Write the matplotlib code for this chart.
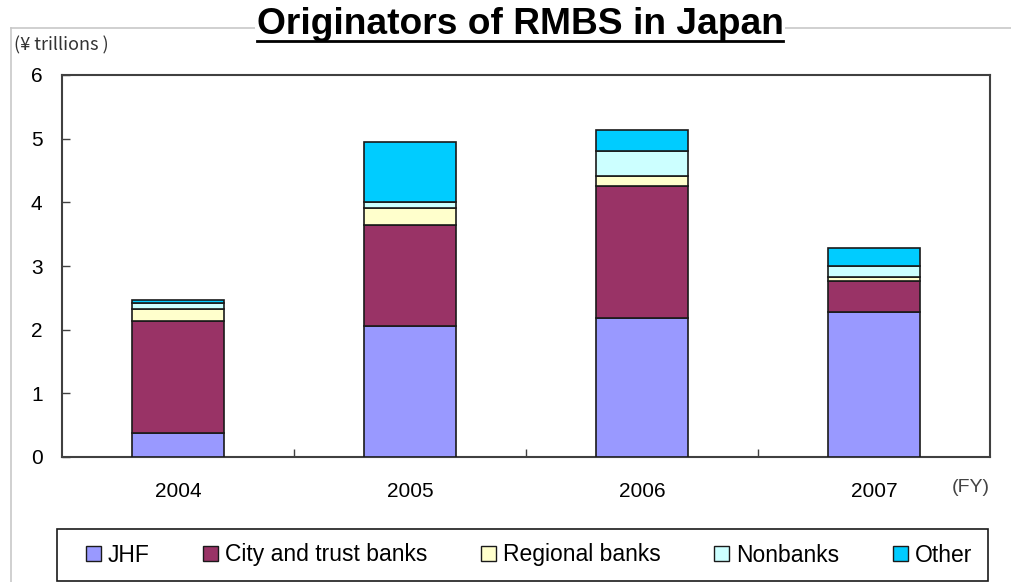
import matplotlib
matplotlib.use("Agg")
import matplotlib.pyplot as plt
from matplotlib.lines import Line2D
from matplotlib.patches import Patch, Rectangle
import numpy as np

plt.rcParams['font.family'] = ['Liberation Sans', 'DejaVu Sans']

# RMBS originations by fiscal year (trillions of yen)
years = ["2004", "2005", "2006", "2007"]
jhf = [0.37, 2.05, 2.18, 2.27]
city_trust = [1.76, 1.60, 2.07, 0.50]
regional = [0.19, 0.26, 0.17, 0.06]
nonbanks = [0.10, 0.10, 0.38, 0.17]
other = [0.04, 0.94, 0.34, 0.29]

series = [
    ("JHF", jhf, "#9999FF"),
    ("City and trust banks", city_trust, "#993366"),
    ("Regional banks", regional, "#FFFFCC"),
    ("Nonbanks", nonbanks, "#CCFFFF"),
    ("Other", other, "#00CCFF"),
]

W, H = 1011, 582
fig = plt.figure(figsize=(W / 100, H / 100), dpi=100)
fig.patch.set_facecolor("white")

# light frame around the chart area
fig.add_artist(Line2D([10.7 / W, 10.7 / W], [0, 1 - 28 / H], color="#c8c8c8", lw=1.2))
fig.add_artist(Line2D([10.7 / W, 1], [1 - 28 / H, 1 - 28 / H], color="#c8c8c8", lw=1.2))

ax = fig.add_axes([62 / W, 1 - 457 / H, (990 - 62) / W, (457 - 75) / H])
x = np.arange(len(years))
bottom = np.zeros(len(years))
for name, vals, col in series:
    ax.bar(x, vals, width=0.40, bottom=bottom, color=col, edgecolor="#1a1a1a",
           linewidth=1.2, label=name, zorder=3)
    bottom += np.array(vals)

ax.set_xlim(-0.5, len(years) - 0.5)
ax.set_ylim(0, 6)
ax.set_yticks(range(0, 7))
ax.set_yticklabels([str(v) for v in range(0, 7)], fontsize=15)
ax.set_xticks(x)
ax.set_xticklabels(years, fontsize=15)
ax.set_xticks(np.arange(0.5, len(years) - 1, 1.0), minor=True)
ax.tick_params(axis="x", which="major", length=0, pad=18)
ax.tick_params(axis="x", which="minor", direction="in", length=6, width=1, color="#404040")
ax.tick_params(axis="y", direction="in", length=6, width=1, color="#404040", pad=14)
for sp in ax.spines.values():
    sp.set_color("#404040")
    sp.set_linewidth(1.5)

fig.text(14 / W, 1 - 45 / H, "(¥ trillions )", fontsize=13, color="#333333",
         va="center", ha="left", family=["Noto Sans CJK JP", "DejaVu Sans"])
fig.text(971 / W, 1 - 488 / H, "(FY)", fontsize=14, color="#444444",
         va="center", ha="center")

title = fig.text(520 / W, 1 - 24 / H, "Originators of RMBS in Japan", fontsize=26.7,
                 fontweight="bold", ha="center", va="center", zorder=5,
                 bbox=dict(facecolor="white", edgecolor="none", pad=1))
fig.canvas.draw()
tb = title.get_window_extent()
fig.add_artist(Line2D([tb.x0 / W, tb.x1 / W], [1 - 41 / H, 1 - 41 / H],
                      color="black", lw=2, zorder=6))

# legend box
fig.add_artist(Rectangle((57 / W, 1 - 581 / H), 931 / W, 52 / H, transform=fig.transFigure,
                         facecolor="white", edgecolor="#1a1a1a", linewidth=1.2, zorder=4))
handles = [Patch(facecolor=c, edgecolor="#1a1a1a", linewidth=1.0) for _, _, c in series]
labels = [n for n, _, _ in series]
leg = fig.legend(handles, labels, loc="center", ncol=5, mode="expand",
                 bbox_to_anchor=(86 / W, 1 - 581 / H, 886 / W, 52 / H), fontsize=16.5,
                 frameon=False, handlelength=0.65, handleheight=0.65, handletextpad=0.3,
                 borderpad=0, borderaxespad=0)
leg.set_zorder(5)

fig.savefig("out.png", dpi=100, facecolor="white")
